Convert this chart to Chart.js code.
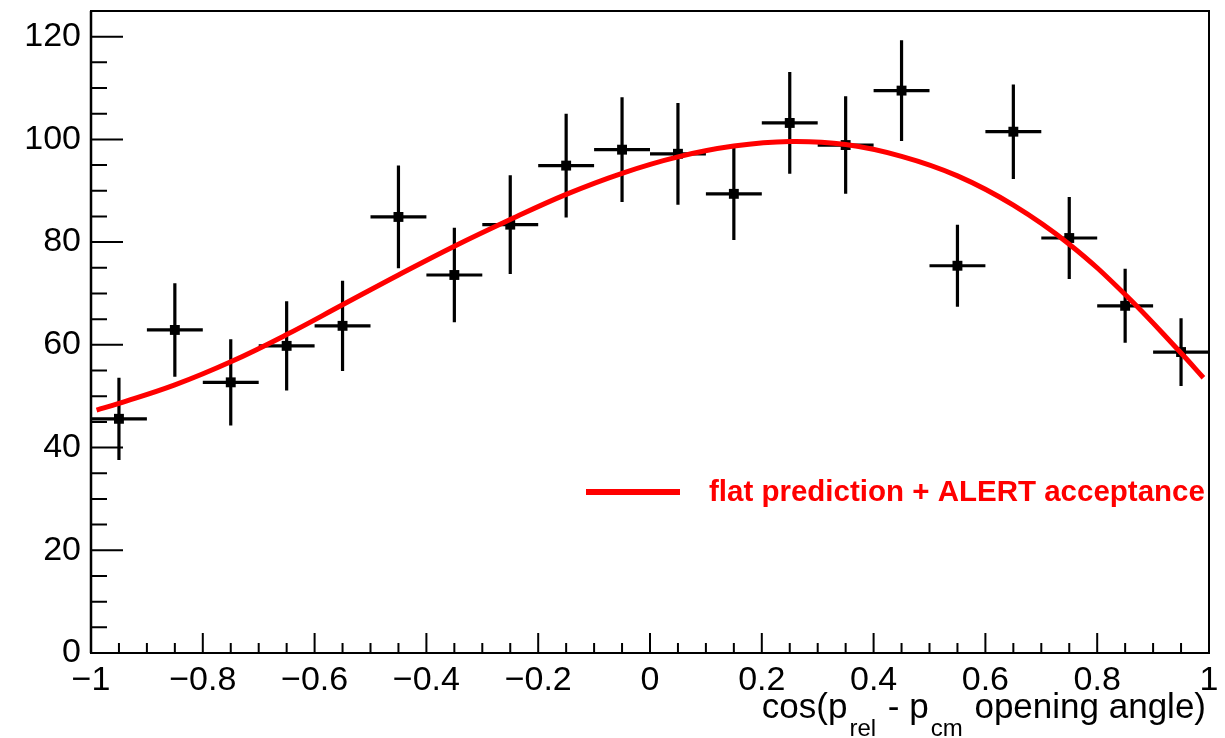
<!DOCTYPE html>
<html>
<head>
<meta charset="utf-8">
<script src="https://cdn.jsdelivr.net/npm/chart.js@4.4.1/dist/chart.umd.min.js"></script>
<style>
  html, body { margin: 0; padding: 0; background: #fff; }
  #wrap { width: 1225px; height: 738px; }
</style>
</head>
<body>
<div id="wrap"><canvas id="plot" width="1225" height="738"></canvas></div>
<script>
// histogram bins (centre, content, error)
var binCenters = [-0.95, -0.85, -0.75, -0.65, -0.55, -0.45, -0.35, -0.25, -0.15, -0.05,
                  0.05, 0.15, 0.25, 0.35, 0.45, 0.55, 0.65, 0.75, 0.85, 0.95];
var counts = [45.6, 62.9, 52.7, 59.8, 63.7, 84.9, 73.6, 83.4, 94.9, 98.0,
              97.2, 89.4, 103.2, 98.9, 109.5, 75.4, 101.5, 80.8, 67.6, 58.6];
var countErrors = [8.0, 9.1, 8.4, 8.7, 8.8, 10.0, 9.2, 9.6, 10.1, 10.2,
                   9.9, 9.0, 9.9, 9.5, 9.8, 8.0, 9.2, 8.0, 7.2, 6.6];
var binHalfWidth = 0.05;

// red prediction curve
var curveX = [-0.99, -0.95, -0.85, -0.75, -0.65, -0.55, -0.45, -0.35, -0.25, -0.15, -0.05,
              0.05, 0.15, 0.25, 0.35, 0.45, 0.55, 0.65, 0.75, 0.85, 0.95, 0.99];
var curveY = [47.3, 48.6, 52.2, 56.7, 62.0, 67.8, 73.6, 79.2, 84.4, 89.3, 93.4,
              96.6, 98.7, 99.6, 99.0, 96.7, 92.9, 87.2, 79.6, 69.8, 58.4, 53.6];

var xTickValues = [-1, -0.8, -0.6, -0.4, -0.2, 0, 0.2, 0.4, 0.6, 0.8, 1];
var xTickLabels = ['\u22121', '\u22120.8', '\u22120.6', '\u22120.4', '\u22120.2', '0', '0.2', '0.4', '0.6', '0.8', '1'];
var yTickValues = [0, 20, 40, 60, 80, 100, 120];
var yTickLabels = ['0', '20', '40', '60', '80', '100', '120'];

var legendLabel = 'flat prediction + ALERT acceptance';
var titleParts = [
  {t: 'cos(p', sub: false}, {t: 'rel', sub: true}, {t: ' - p', sub: false},
  {t: 'cm', sub: true}, {t: ' opening angle)', sub: false}
];

var FONT = '"Liberation Sans", Arial, Helvetica, sans-serif';

function noPad(s) {
  s.paddingTop = 0; s.paddingBottom = 0; s.paddingLeft = 0; s.paddingRight = 0;
}

// error bars under the markers
var errorBars = {
  id: 'errorBars',
  beforeDatasetsDraw: function(chart) {
    var ctx = chart.ctx, xs = chart.scales.x, ys = chart.scales.y;
    ctx.save();
    ctx.strokeStyle = '#000';
    ctx.lineWidth = 3.2;
    ctx.lineCap = 'butt';
    for (var i = 0; i < binCenters.length; i++) {
      var xc = xs.getPixelForValue(binCenters[i]);
      var yc = ys.getPixelForValue(counts[i]);
      ctx.beginPath();
      ctx.moveTo(xs.getPixelForValue(binCenters[i] - binHalfWidth), yc);
      ctx.lineTo(xs.getPixelForValue(binCenters[i] + binHalfWidth), yc);
      ctx.moveTo(xc, ys.getPixelForValue(counts[i] + countErrors[i]));
      ctx.lineTo(xc, ys.getPixelForValue(counts[i] - countErrors[i]));
      ctx.stroke();
    }
    ctx.restore();
  }
};

// ROOT style frame, inward ticks, legend and axis title
var rootFrame = {
  id: 'rootFrame',
  afterDraw: function(chart) {
    var ctx = chart.ctx, xs = chart.scales.x, ys = chart.scales.y, a = chart.chartArea;
    ctx.save();
    ctx.strokeStyle = '#000';
    ctx.lineWidth = 2;
    ctx.strokeRect(a.left, a.top, a.right - a.left, a.bottom - a.top);
    ctx.lineWidth = 2.5;
    ctx.beginPath();
    ctx.moveTo(a.left, a.top);
    ctx.lineTo(a.left, a.bottom);
    ctx.stroke();

    ctx.lineWidth = 2;
    ctx.beginPath();
    for (var i = 0; i <= 40; i++) {
      var xv = -1 + i * 0.05;
      var px = xs.getPixelForValue(xv);
      var len = (i % 4 === 0) ? 20 : 10;
      ctx.moveTo(px, a.bottom);
      ctx.lineTo(px, a.bottom - len);
    }
    for (var j = 0; j <= 25; j++) {
      var py = ys.getPixelForValue(j * 5);
      var ylen = (j % 4 === 0) ? 32 : 16;
      ctx.moveTo(a.left, py);
      ctx.lineTo(a.left + ylen, py);
    }
    ctx.stroke();

    // legend
    ctx.strokeStyle = '#ff0000';
    ctx.lineWidth = 6;
    ctx.beginPath();
    ctx.moveTo(586, 492);
    ctx.lineTo(680, 492);
    ctx.stroke();
    ctx.fillStyle = '#ff0000';
    ctx.font = 'bold 29.5px ' + FONT;
    ctx.textBaseline = 'middle';
    ctx.textAlign = 'left';
    ctx.fillText(legendLabel, 709, 493);

    // x axis title with subscripts
    var mainFont = '35px ' + FONT, subFont = '24px ' + FONT;
    var total = 0;
    titleParts.forEach(function(p) {
      ctx.font = p.sub ? subFont : mainFont;
      p.w = ctx.measureText(p.t).width + (p.sub ? 4 : 0);
      total += p.w;
    });
    var x = 1206 - total;
    ctx.fillStyle = '#000';
    ctx.textBaseline = 'alphabetic';
    titleParts.forEach(function(p) {
      ctx.font = p.sub ? subFont : mainFont;
      ctx.fillText(p.t, x + (p.sub ? 2 : 0), p.sub ? 736 : 718);
      x += p.w;
    });
    ctx.restore();
  }
};

new Chart(document.getElementById('plot'), {
  type: 'scatter',
  data: {
    datasets: [{
      label: 'prediction',
      type: 'line',
      data: curveX.map(function(v, i) { return {x: v, y: curveY[i]}; }),
      borderColor: '#ff0000',
      borderWidth: 5,
      pointRadius: 0,
      fill: false,
      tension: 0.4,
      order: 0
    }, {
      label: 'data',
      data: binCenters.map(function(v, i) { return {x: v, y: counts[i]}; }),
      pointStyle: 'rect',
      pointRadius: 7,
      pointBackgroundColor: '#000',
      pointBorderWidth: 0,
      order: 1
    }]
  },
  options: {
    responsive: false,
    animation: false,
    devicePixelRatio: 1,
    layout: {padding: {left: 0, right: 16, top: 11, bottom: 0}},
    plugins: {legend: {display: false}, tooltip: {enabled: false}},
    scales: {
      x: {
        type: 'linear', min: -1, max: 1,
        grid: {display: false, drawTicks: false},
        border: {display: false},
        afterFit: function(s) { s.height = 85; noPad(s); },
        afterBuildTicks: function(s) { s.ticks = xTickValues.map(function(v) { return {value: v}; }); },
        ticks: {
          color: '#000', padding: 7, maxRotation: 0, autoSkip: false,
          font: {family: FONT, size: 34},
          callback: function(v, i) { return xTickLabels[i]; }
        }
      },
      y: {
        type: 'linear', min: 0, max: 125,
        grid: {display: false, drawTicks: false},
        border: {display: false},
        afterFit: function(s) { s.width = 91; noPad(s); },
        afterBuildTicks: function(s) { s.ticks = yTickValues.map(function(v) { return {value: v}; }); },
        ticks: {
          color: '#000', padding: 10, autoSkip: false,
          font: {family: FONT, size: 34},
          callback: function(v, i) { return yTickLabels[i]; }
        }
      }
    }
  },
  plugins: [errorBars, rootFrame]
});
</script>
</body>
</html>
